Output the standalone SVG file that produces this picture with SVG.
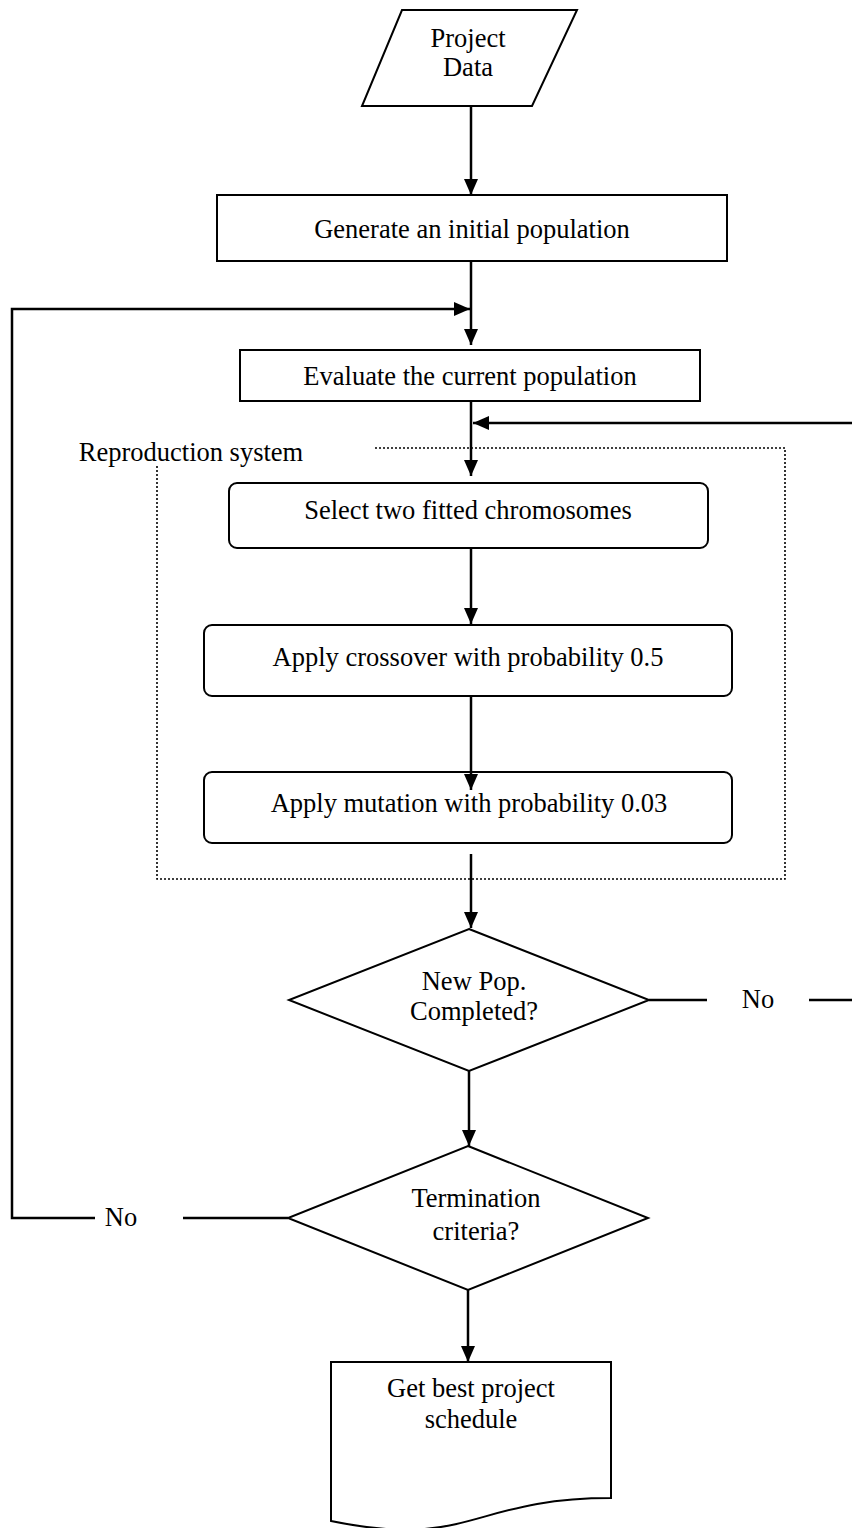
<svg xmlns="http://www.w3.org/2000/svg" width="852" height="1528" viewBox="0 0 852 1528">
<style>
text{font-family:"Liberation Serif","Times New Roman",serif;font-size:26.5px;fill:#000;text-anchor:middle}
.shape{fill:#fff;stroke:#000;stroke-width:2}
.conn{fill:none;stroke:#000;stroke-width:2.5}
.dot{fill:none;stroke:#000;stroke-width:1.6;stroke-dasharray:2 2}
</style>
<defs>
<marker id="arr" markerUnits="userSpaceOnUse" markerWidth="16" markerHeight="14" refX="16" refY="7" orient="auto">
<path d="M0,0 L16,7 L0,14 z" fill="#000"/>
</marker>
</defs>
<g id="reproduction-frame">
<path class="dot" d="M375,448 H785 V879 H157 V466"/>
<text x="191" y="461">Reproduction system</text>
</g>
<g id="project-data">
<polygon class="shape" points="402,10 577,10 532,106 362,106"/>
<text x="468" y="47">Project</text>
<text x="468" y="76">Data</text>
</g>
<g id="generate">
<rect class="shape" x="217" y="195" width="510" height="66" stroke-width="1.6"/>
<text x="472" y="238">Generate an initial population</text>
</g>
<g id="evaluate">
<rect class="shape" x="240" y="350" width="460" height="51" stroke-width="1.6"/>
<text x="470" y="385">Evaluate the current population</text>
</g>
<g id="select">
<rect class="shape" x="229" y="483" width="479" height="65" rx="8"/>
<text x="468" y="519">Select two fitted chromosomes</text>
</g>
<g id="crossover">
<rect class="shape" x="204" y="625" width="528" height="71" rx="8"/>
<text x="468" y="666">Apply crossover with probability 0.5</text>
</g>
<g id="mutation">
<rect class="shape" x="204" y="772" width="528" height="71" rx="8"/>
<text x="469" y="812">Apply mutation with probability 0.03</text>
</g>
<g id="new-pop">
<polygon class="shape" points="469,929 649,1000 469,1071 289,1000"/>
<text x="474" y="990">New Pop.</text>
<text x="474" y="1020">Completed?</text>
</g>
<g id="termination">
<polygon class="shape" points="468,1146 648,1218 468,1290 288,1218"/>
<text x="476" y="1207">Termination</text>
<text x="476" y="1240">criteria?</text>
</g>
<g id="best-schedule">
<path class="shape" d="M331,1362 H611 V1498 C471,1498 471,1550 331,1521 Z"/>
<text x="471" y="1397">Get best project</text>
<text x="471" y="1428">schedule</text>
</g>
<g id="connectors">
<path class="conn" d="M471,106 V195" marker-end="url(#arr)"/>
<path class="conn" d="M471,261 V345" marker-end="url(#arr)"/>
<path class="conn" d="M95,1218 H12 V309 H470" marker-end="url(#arr)"/>
<path class="conn" d="M183,1218 H288"/>
<text x="121" y="1226">No</text>
<path class="conn" d="M471,401 V476" marker-end="url(#arr)"/>
<path class="conn" d="M852,423 H473" marker-end="url(#arr)"/>
<path class="conn" d="M649,1000 H707"/>
<text x="758" y="1008">No</text>
<path class="conn" d="M809,1000 H852"/>
<path class="conn" d="M471,548 V624" marker-end="url(#arr)"/>
<path class="conn" d="M471,696 V790" marker-end="url(#arr)"/>
<path class="conn" d="M471,854 V928" marker-end="url(#arr)"/>
<path class="conn" d="M469,1071 V1146" marker-end="url(#arr)"/>
<path class="conn" d="M468,1290 V1362" marker-end="url(#arr)"/>
</g>
</svg>
